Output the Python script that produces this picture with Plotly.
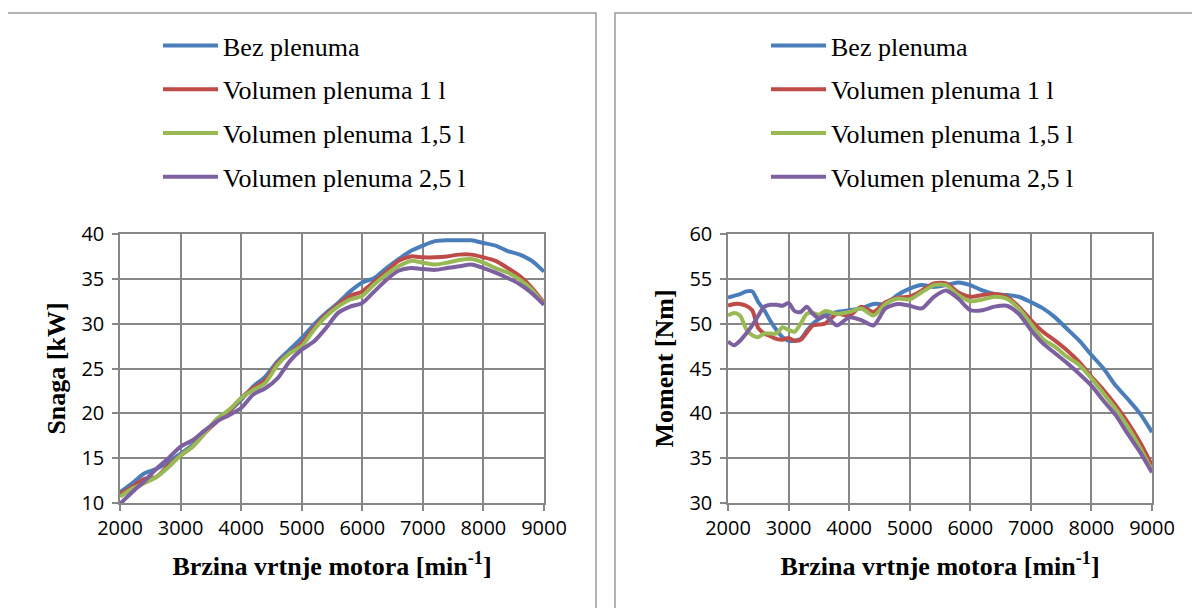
import plotly.graph_objects as go

# ---------------- data ----------------
series_names = ["Bez plenuma", "Volumen plenuma 1 l", "Volumen plenuma 1,5 l", "Volumen plenuma 2,5 l"]
series_colors = ["#4A7EBB", "#BE4B48", "#98B954", "#7D60A0"]

rpm_power = [2000, 2200, 2400, 2600, 2800, 3000, 3200, 3400, 3600, 3800, 4000, 4200, 4400, 4600,
             4800, 5000, 5200, 5400, 5600, 5800, 6000, 6200, 6400, 6600, 6800, 7000, 7200, 7400,
             7600, 7800, 8000, 8200, 8400, 8600, 8800, 9000]

power_bez = [11.2, 12.2, 13.3, 13.8, 14.6, 15.5, 16.5, 17.9, 19.1, 20.2, 21.5, 23.0, 24.1, 25.8,
             27.1, 28.4, 29.9, 31.2, 32.3, 33.6, 34.6, 35.1, 36.2, 37.2, 38.1, 38.7, 39.2, 39.3,
             39.3, 39.3, 39.0, 38.7, 38.1, 37.7, 37.0, 35.8]
power_1l = [11.0, 11.8, 12.7, 12.9, 14.2, 15.3, 16.3, 17.8, 19.1, 20.2, 21.7, 22.8, 23.7, 25.6,
            26.7, 27.8, 29.5, 31.0, 32.1, 33.1, 33.6, 34.7, 35.8, 37.0, 37.5, 37.4, 37.4, 37.5,
            37.7, 37.7, 37.4, 37.0, 36.2, 35.3, 34.0, 32.3]
power_15l = [10.7, 11.6, 12.2, 12.9, 14.0, 15.3, 16.3, 17.8, 19.4, 20.4, 21.7, 22.6, 23.4, 25.4,
             26.7, 27.5, 29.3, 30.8, 31.9, 32.7, 33.1, 34.4, 35.5, 36.4, 37.0, 36.8, 36.6, 36.8,
             37.1, 37.2, 36.8, 36.2, 35.7, 34.9, 33.8, 32.1]
power_25l = [9.9, 11.2, 12.4, 13.8, 15.0, 16.3, 17.0, 18.1, 19.1, 19.8, 20.6, 22.1, 22.8, 23.9,
             25.8, 27.1, 28.0, 29.5, 31.2, 31.9, 32.3, 33.6, 34.9, 35.9, 36.2, 36.1, 36.0, 36.2,
             36.4, 36.6, 36.2, 35.7, 35.1, 34.4, 33.4, 32.1]

rpm_torque = [2000, 2100, 2200, 2300, 2400, 2500, 2600, 2700, 2800, 2900, 3000, 3100, 3200, 3300,
              3400, 3500, 3600, 3800, 4000, 4200, 4400, 4600, 4800, 5000, 5200, 5400, 5600, 5800,
              6000, 6200, 6400, 6600, 6800, 7000, 7200, 7400, 7600, 7800, 8000, 8200, 8400, 8600,
              8800, 9000]

torque_bez = [52.9, 53.1, 53.3, 53.6, 53.6, 52.4, 51.5, 50.3, 49.3, 48.5, 48.1, 48.1, 48.3, 49.2,
              50.0, 50.5, 50.9, 51.3, 51.5, 51.7, 52.2, 52.2, 53.2, 53.9, 54.3, 54.1, 54.3, 54.6,
              54.3, 53.7, 53.3, 53.2, 53.0, 52.4, 51.7, 50.7, 49.4, 48.1, 46.5, 45.0, 43.1, 41.6,
              40.0, 37.9]
torque_1l = [52.0, 52.2, 52.2, 52.0, 51.5, 49.5, 48.9, 48.6, 48.3, 48.2, 48.4, 48.1, 48.2, 49.0,
             49.8, 49.9, 50.0, 51.1, 50.9, 51.9, 51.3, 52.4, 52.9, 53.0, 53.7, 54.5, 54.5, 53.5,
             53.0, 53.2, 53.3, 53.0, 51.9, 50.4, 49.1, 48.1, 47.0, 45.7, 44.1, 42.6, 40.9, 39.0,
             36.8, 34.2]
torque_15l = [50.9, 51.2, 50.9, 49.4, 48.7, 48.5, 48.9, 48.9, 48.9, 49.6, 49.3, 49.1, 50.0, 51.1,
              51.2, 51.0, 51.4, 51.1, 51.3, 51.7, 50.9, 52.2, 52.8, 52.7, 53.5, 54.3, 54.3, 53.2,
              52.5, 52.7, 53.0, 52.8, 51.7, 50.0, 48.3, 47.4, 46.3, 45.4, 43.9, 42.2, 40.5, 38.5,
              36.2, 33.6]
torque_25l = [48.0, 47.6, 48.1, 48.9, 49.8, 50.9, 51.9, 52.1, 52.1, 52.0, 52.3, 51.4, 51.3, 51.9,
              51.1, 50.6, 50.9, 49.8, 50.7, 50.4, 49.8, 51.7, 52.2, 52.0, 51.7, 53.0, 53.7, 52.8,
              51.5, 51.5, 51.9, 52.0, 51.1, 49.3, 47.8, 46.7, 45.6, 44.4, 43.1, 41.4, 39.8, 37.7,
              35.7, 33.4]

x_ticks = [2000, 3000, 4000, 5000, 6000, 7000, 8000, 9000]
power_ticks = [10, 15, 20, 25, 30, 35, 40]
torque_ticks = [30, 35, 40, 45, 50, 55, 60]

x_title = "<b>Brzina vrtnje motora [min<sup>-1</sup>]</b>"
power_title = "<b>Snaga [kW]</b>"
torque_title = "<b>Moment [Nm]</b>"

# ---------------- layout geometry ----------------
# The page body adds an 8 px offset, so the figure is sized and placed to compensate.
OFF = 8
W, H = 1192, 600
ML, MT = 120 - OFF, 234 - OFF
MR = W - (1152 - OFF)
MB = H - (503 - OFF)
PW = W - ML - MR
PH = H - MT - MB


def px(xs):
    """screen x (px) -> paper x"""
    return (xs - OFF - ML) / PW


def py(ys):
    """screen y (px) -> paper y"""
    return (H - MB - (ys - OFF)) / PH


GRID = "#878787"
SERIF = "Liberation Serif"
SANS = "Open Sans"

fig = go.Figure()

power_series = [power_bez, power_1l, power_15l, power_25l]
torque_series = [torque_bez, torque_1l, torque_15l, torque_25l]

for i, (name, color) in enumerate(zip(series_names, series_colors)):
    fig.add_trace(go.Scatter(
        x=rpm_power, y=power_series[i], mode="lines", name=name,
        line=dict(color=color, width=4, shape="spline", smoothing=0.7),
        xaxis="x", yaxis="y", legend="legend", legendgroup="p%d" % i,
        hoverinfo="skip"))
for i, (name, color) in enumerate(zip(series_names, series_colors)):
    fig.add_trace(go.Scatter(
        x=rpm_torque, y=torque_series[i], mode="lines", name=name,
        line=dict(color=color, width=4, shape="spline", smoothing=0.7),
        xaxis="x2", yaxis="y2", legend="legend2", legendgroup="t%d" % i,
        hoverinfo="skip"))

axis_common = dict(
    showgrid=True, gridcolor=GRID, gridwidth=1.5,
    showline=True, linecolor=GRID, linewidth=1.5, mirror=True,
    ticks="outside", ticklen=6, tickcolor=GRID, tickwidth=1.5,
    tickfont=dict(family=SANS, size=20, color="#000000"),
    zeroline=False, automargin=False,
)

title_font = dict(family=SERIF, size=26, color="#000000")

fig.update_layout(
    width=W, height=H,
    margin=dict(l=ML, r=MR, t=MT, b=MB),
    paper_bgcolor="white", plot_bgcolor="white",
    showlegend=True,
    xaxis=dict(domain=[px(120), px(544)], range=[2000, 9000], tickvals=x_ticks, anchor="y",
               ticklabelstandoff=0,
               title=dict(text=x_title, font=title_font, standoff=17),
               **axis_common),
    yaxis=dict(domain=[0, 1], range=[10, 40], tickvals=power_ticks, anchor="x",
               ticklabelstandoff=4,
               title=dict(text=power_title, font=title_font, standoff=8),
               **axis_common),
    xaxis2=dict(domain=[px(728), px(1152)], range=[2000, 9000], tickvals=x_ticks, anchor="y2",
                ticklabelstandoff=0,
                title=dict(text=x_title, font=title_font, standoff=17),
                **axis_common),
    yaxis2=dict(domain=[0, 1], range=[30, 60], tickvals=torque_ticks, anchor="x2",
                ticklabelstandoff=4,
                title=dict(text=torque_title, font=title_font, standoff=8),
                **axis_common),
    legend=dict(x=px(158), y=py(22), xanchor="left", yanchor="top",
                font=dict(family=SERIF, size=26, color="#000000"),
                bgcolor="rgba(0,0,0,0)", itemwidth=55, tracegroupgap=7),
    legend2=dict(x=px(766), y=py(22), xanchor="left", yanchor="top",
                 font=dict(family=SERIF, size=26, color="#000000"),
                 bgcolor="rgba(0,0,0,0)", itemwidth=55, tracegroupgap=7),
    shapes=[
        dict(type="rect", xref="paper", yref="paper",
             x0=px(7), x1=px(596), y0=py(640), y1=py(13),
             line=dict(color="#9A9A9A", width=1.5), fillcolor="rgba(0,0,0,0)", layer="below"),
        dict(type="rect", xref="paper", yref="paper",
             x0=px(615), x1=px(1240), y0=py(640), y1=py(13),
             line=dict(color="#9A9A9A", width=1.5), fillcolor="rgba(0,0,0,0)", layer="below"),
    ],
)

fig.write_html("out.html")
